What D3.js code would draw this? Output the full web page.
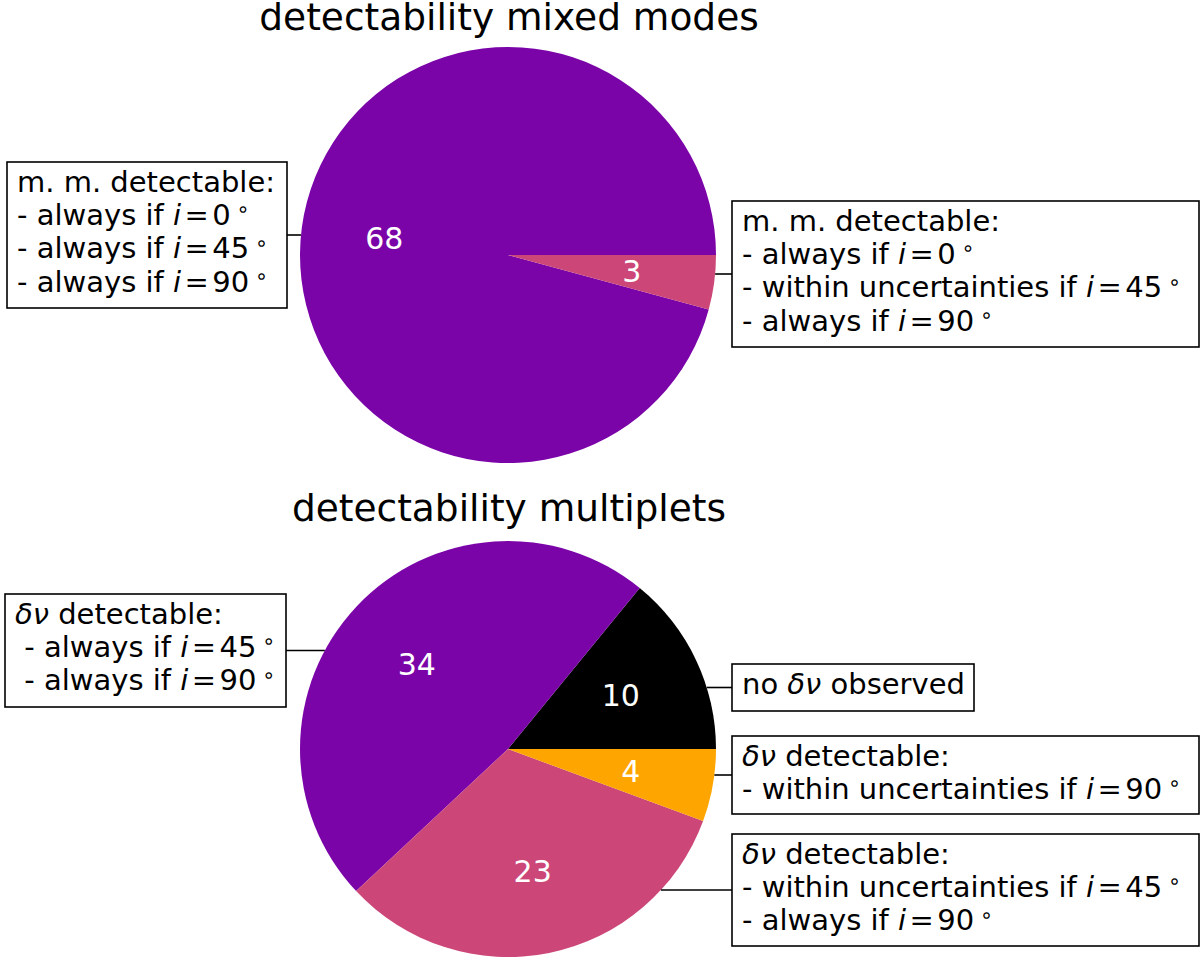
<!DOCTYPE html>
<html><head><meta charset="utf-8">
<script src="https://cdn.jsdelivr.net/npm/d3@7"></script>
<style>
html,body{margin:0;padding:0;background:#fff;}
svg{display:block;}
text{font-family:"DejaVu Sans",sans-serif;}
</style></head>
<body>
<svg id="chart" width="1200" height="958"></svg>
<script>
// ---------- data ----------
const titles = ["detectability mixed modes", "detectability multiplets"];
const mixedValues = [68, 3];
const mixedColors = ["#7a04a8", "#cc4778"];
const mixedLabels = [
  ["m. m. detectable:", "- always if *i*=0^", "- always if *i*=45^", "- always if *i*=90^"],
  ["m. m. detectable:", "- always if *i*=0^", "- within uncertainties if *i*=45^", "- always if *i*=90^"]
];
const multValues = [10, 34, 23, 4];
const multColors = ["#000000", "#7a04a8", "#cc4778", "#ffa500"];
const multLabels = [
  ["no *δν* observed"],
  ["*δν* detectable:", " - always if *i*=45^", " - always if *i*=90^"],
  ["*δν* detectable:", "- within uncertainties if *i*=45^", "- always if *i*=90^"],
  ["*δν* detectable:", "- within uncertainties if *i*=90^"]
];

// ---------- layout ----------
const svg = d3.select("#chart");
const R = 208;
const panels = [
  {title: titles[0], values: mixedValues, colors: mixedColors, labels: mixedLabels,
   cx: 508, cy: 255, titleY: 30,
   boxes: [{x: 7, y: 162, w: 280, h: 146}, {x: 732, y: 201, w: 467, h: 146}]},
  {title: titles[1], values: multValues, colors: multColors, labels: multLabels,
   cx: 508, cy: 749, titleY: 521,
   boxes: [{x: 732, y: 664, w: 242, h: 47}, {x: 5, y: 594, w: 281, h: 113},
           {x: 732, y: 834, w: 467, h: 112}, {x: 732, y: 736, w: 467, h: 78}]}
];

// matplotlib: start at east, counter-clockwise
const pie = d3.pie().sort(null).value(d => d)
  .startAngle(Math.PI / 2).endAngle(Math.PI / 2 - 2 * Math.PI);
const arc = d3.arc().innerRadius(0).outerRadius(R);
const labelArc = d3.arc().innerRadius(0.6 * R).outerRadius(0.6 * R);

function writeLine(textSel, str) {
  // *...* italic, ^ superscript ring, = relation
  const parts = str.split(/(\*[^*]+\*|\^|=)/).filter(s => s.length);
  let afterEq = false;
  parts.forEach(p => {
    if (p === "^") {
      textSel.append("tspan").attr("font-size", "0.72em").attr("dx", "0.28em")
        .attr("dy", "-0.42em").text("∘");
    } else if (p === "=") {
      textSel.append("tspan").attr("dx", "0.12em").text("=");
      afterEq = true;
    } else if (p[0] === "*") {
      textSel.append("tspan").attr("font-style", "italic").text(p.slice(1, -1));
    } else {
      const t = textSel.append("tspan").text(p);
      if (afterEq) { t.attr("dx", "0.12em"); afterEq = false; }
    }
  });
}

panels.forEach(P => {
  const g = svg.append("g").attr("transform", `translate(${P.cx},${P.cy})`);
  const arcs = pie(P.values);
  g.selectAll("path").data(arcs).join("path")
    .attr("d", arc).attr("fill", (d, i) => P.colors[i]);
  g.selectAll("text.val").data(arcs).join("text").attr("class", "val")
    .attr("transform", d => `translate(${labelArc.centroid(d)})`)
    .attr("text-anchor", "middle").attr("dy", "0.36em")
    .attr("font-size", 30).attr("fill", "#fff")
    .text(d => d.data);

  svg.append("text").attr("x", 509).attr("y", P.titleY)
    .attr("text-anchor", "middle").attr("font-size", 37.5).attr("fill", "#000")
    .text(P.title);

  P.boxes.forEach((b, i) => {
    const ly = b.y + b.h / 2;
    const dy = ly - P.cy;
    const half = Math.sqrt(Math.max(0, R * R - dy * dy));
    const left = b.x < P.cx;
    const x1 = left ? P.cx - half : P.cx + half;
    const x2 = left ? b.x + b.w : b.x;
    svg.append("line").attr("x1", x1).attr("x2", x2).attr("y1", ly).attr("y2", ly)
      .attr("stroke", "#000").attr("stroke-width", 1.6);
    svg.append("rect").attr("x", b.x).attr("y", b.y).attr("width", b.w).attr("height", b.h)
      .attr("fill", "#fff").attr("stroke", "#000").attr("stroke-width", 1.6);
    P.labels[i].forEach((line, k) => {
      const t = svg.append("text").attr("x", b.x + 10).attr("y", b.y + 30 + k * 33.2)
        .attr("font-size", 29).attr("fill", "#000").style("white-space", "pre");
      writeLine(t, line);
    });
  });
});
</script>
</body></html>
